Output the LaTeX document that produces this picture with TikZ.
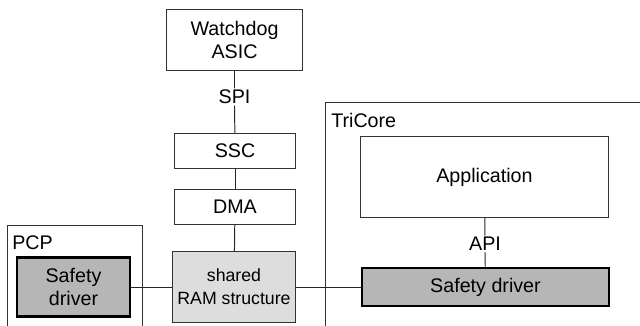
\documentclass[tikz,border=0pt]{standalone}
\usepackage{fontspec}
\setmainfont{Liberation Sans}
\usepackage{tikz}
\usepackage{xcolor}
\definecolor{drvgray}{RGB}{182,182,182}
\definecolor{ramgray}{RGB}{221,221,221}
\tikzstyle{plainbox} = [draw=black!80, fill=white, line width=0.7pt, rectangle, align=center, inner sep=2pt]
\tikzstyle{drvbox} = [draw=black, fill=drvgray, line width=1.8pt, rectangle, align=center, inner sep=2pt]
\tikzstyle{rambox} = [draw=black!80, fill=ramgray, line width=0.7pt, rectangle, align=center, inner sep=2pt, font=\fontsize{12.6}{16.5}\selectfont]
\tikzstyle{ifname} = [fill=white, inner sep=1pt]
\tikzstyle{frame} = [draw=black!80, line width=0.7pt]
\tikzstyle{link} = [draw=black!85, line width=0.7pt]

\begin{document}
\begin{tikzpicture}[x=0.025cm, y=-0.025cm, font=\fontsize{14}{16.5}\selectfont]
\useasboundingbox (0,0) rectangle (640,326);
% processor frames
\draw[frame] (7.5,326) |- (142,225) -- (142,326);
\draw[frame] (325,326) |- (640,102);
\node[anchor=west, inner sep=0pt] (pcplabel) at (12,243) {PCP};
\node[anchor=west, inner sep=0pt] (tclabel) at (331,120) {TriCore};
% boxes
\node[plainbox, minimum width=3.375cm, minimum height=1.5cm] (wdg) at (234.5,40) {Watchdog\\ASIC};
\node[plainbox, minimum width=3cm, minimum height=0.85cm] (ssc) at (235,151) {SSC};
\node[plainbox, minimum width=3cm, minimum height=0.85cm] (dma) at (235,207) {DMA};
\node[rambox, minimum width=3.05cm, minimum height=1.775cm] (ram) at (234,287) {shared\\RAM structure};
\node[drvbox, minimum width=2.825cm, minimum height=1.475cm] (pcpdrv) at (73.5,287) {Safety\\driver};
\node[plainbox, minimum width=6.175cm, minimum height=2cm] (app) at (484.5,177) {Application};
\node[drvbox, minimum width=6.175cm, minimum height=0.95cm] (tcdrv) at (485.5,287) {Safety driver};
% interfaces
\node[ifname] (spi) at (234.5,97) {SPI};
\node[ifname] (api) at (485,244) {API};
% links
\draw[link] (wdg) -- (spi) -- (ssc);
\draw[link] (ssc) -- (dma);
\draw[link] (dma) -- (ram);
\draw[link] (pcpdrv) -- (ram);
\draw[link] (ram) -- (tcdrv);
\draw[link] (app) -- (api) -- (tcdrv);
\end{tikzpicture}
\end{document}
